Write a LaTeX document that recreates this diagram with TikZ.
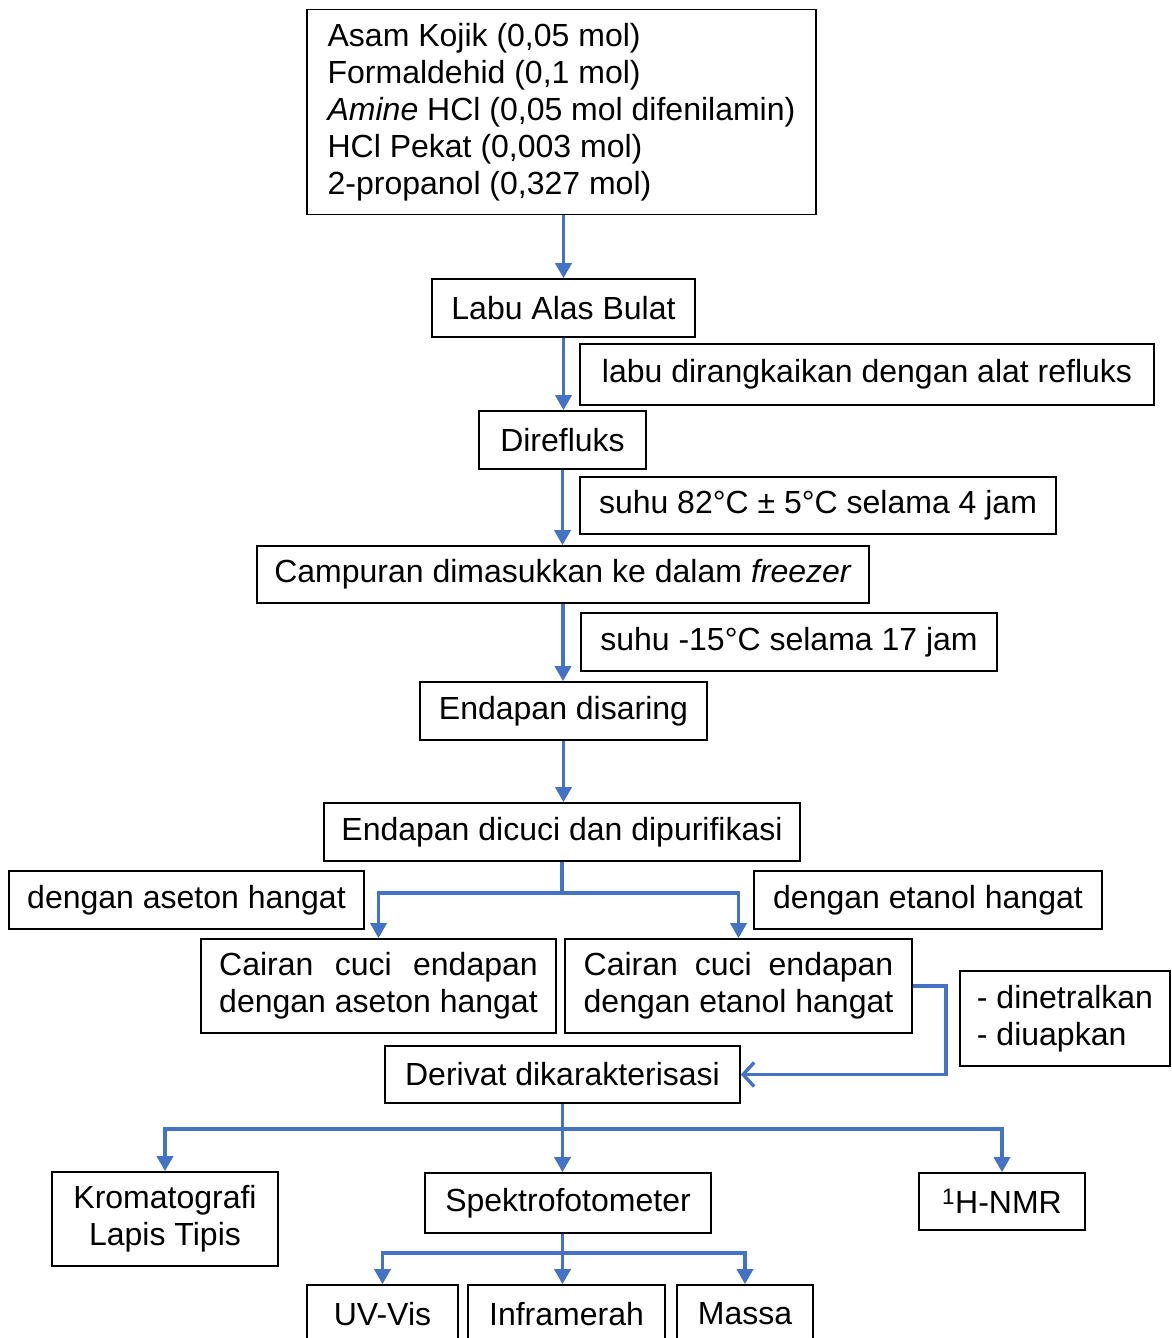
\documentclass[tikz,border=0pt]{standalone}
\usepackage{fontspec}
\setmainfont{Liberation Sans}
\usetikzlibrary{arrows.meta}
\definecolor{arr}{HTML}{4472C4}
\newlength\cairw
\begin{document}
\begin{tikzpicture}[x=1pt,y=-1pt,
  box/.style={draw=black, line width=1.6pt, inner sep=0pt, font=\fontsize{32}{37}\selectfont},
  ln/.style={draw=arr, line width=3.4pt},
  arw/.style={ln, -{Triangle[length=15pt,width=16pt]}},
  barb/.style={ln, -{Straight Barb[length=11pt,width=24pt,line width=3.4pt]}}]
\useasboundingbox (0,0) rectangle (1171,1338);

\node[box, minimum width=509, minimum height=205, align=left] (top) at (561.5,112)
  {Asam Kojik (0,05 mol)\\Formaldehid (0,1 mol)\\\textit{Amine} HCl (0,05 mol difenilamin)\\HCl Pekat (0,003 mol)\\2-propanol (0,327 mol)};
\node[box, minimum width=263, minimum height=58] (labu) at (563.5,308) {Labu Alas Bulat};
\node[box, minimum width=574, minimum height=61] (refl) at (867,374.5) {labu dirangkaikan dengan alat refluks};
\node[box, minimum width=167, minimum height=58] (dirfl) at (562.5,440) {Direfluks};
\node[box, minimum width=476, minimum height=57] (suhu1) at (818,505.5) {suhu 82°C ± 5°C selama 4 jam};
\node[box, minimum width=612, minimum height=57] (camp) at (563,574.5) {Campuran dimasukkan ke dalam \textit{freezer}};
\node[box, minimum width=416, minimum height=58] (suhu2) at (789,642) {suhu -15°C selama 17 jam};
\node[box, minimum width=287, minimum height=58] (saring) at (563.5,711) {Endapan disaring};
\node[box, minimum width=476, minimum height=58] (cuci) at (562,832) {Endapan dicuci dan dipurifikasi};
\node[box, minimum width=355, minimum height=58] (aseton) at (186.5,900) {dengan aseton hangat};
\node[box, minimum width=348, minimum height=58] (etanol) at (928,900) {dengan etanol hangat};
\node[box, minimum width=355, minimum height=94, align=left] (cairA) at (378.5,986)
  {\settowidth{\cairw}{dengan aseton hangat}\makebox[\cairw][s]{Cairan cuci endapan}\\dengan aseton hangat};
\node[box, minimum width=347, minimum height=94, align=left] (cairB) at (738.5,986)
  {\settowidth{\cairw}{dengan etanol hangat}\makebox[\cairw][s]{Cairan cuci endapan}\\dengan etanol hangat};
\node[box, minimum width=210, minimum height=95, align=left] (netral) at (1065,1018.5) {- dinetralkan\\- diuapkan};
\node[box, minimum width=355, minimum height=57] (deriv) at (562.5,1074.5) {Derivat dikarakterisasi};
\node[box, minimum width=226, minimum height=94, align=center] (krom) at (165,1219) {Kromatografi\\Lapis Tipis};
\node[box, minimum width=286, minimum height=60] (spek) at (568,1203) {Spektrofotometer};
\node[box, minimum width=166, minimum height=57] (nmr) at (1002,1201.5) {\textsuperscript{1}H-NMR};
\node[box, minimum width=151, minimum height=58] (uv) at (382.5,1314) {UV-Vis};
\node[box, minimum width=197, minimum height=58] (infra) at (566.5,1314) {Inframerah};
\node[box, minimum width=136, minimum height=58] (massa) at (745,1314) {Massa};

\draw[arw] (labu.north |- top.south) -- (labu.north);
\draw[arw] (labu.south) -- (labu.south |- dirfl.north);
\draw[arw] (dirfl.south) -- (dirfl.south |- camp.north);
\draw[arw] (camp.south) -- (camp.south |- saring.north);
\draw[arw] (saring.south) -- (saring.south |- cuci.north);

\draw[ln] (cuci.south) -- ++(0,31) coordinate (b1);
\draw[arw] (b1) -| (cairA.north);
\draw[arw] (b1) -| (cairB.north);

\draw[barb] (cairB.east) -- ++(33,0) |- (deriv.east);

\draw[ln] (deriv.south) -- ++(0,25) coordinate (b2);
\draw[arw] (b2) -| (krom.north);
\draw[arw] (b2) -| (nmr.north);
\draw[arw] (b2) -- (b2 |- spek.north);

\coordinate (b3) at (b2 |- spek.south);
\draw[ln] (b3) -- ++(0,19) coordinate (b4);
\draw[arw] (b4) -| (uv.north);
\draw[arw] (b4) -| (massa.north);
\draw[arw] (b4) -- (b4 |- infra.north);
\end{tikzpicture}
\end{document}
